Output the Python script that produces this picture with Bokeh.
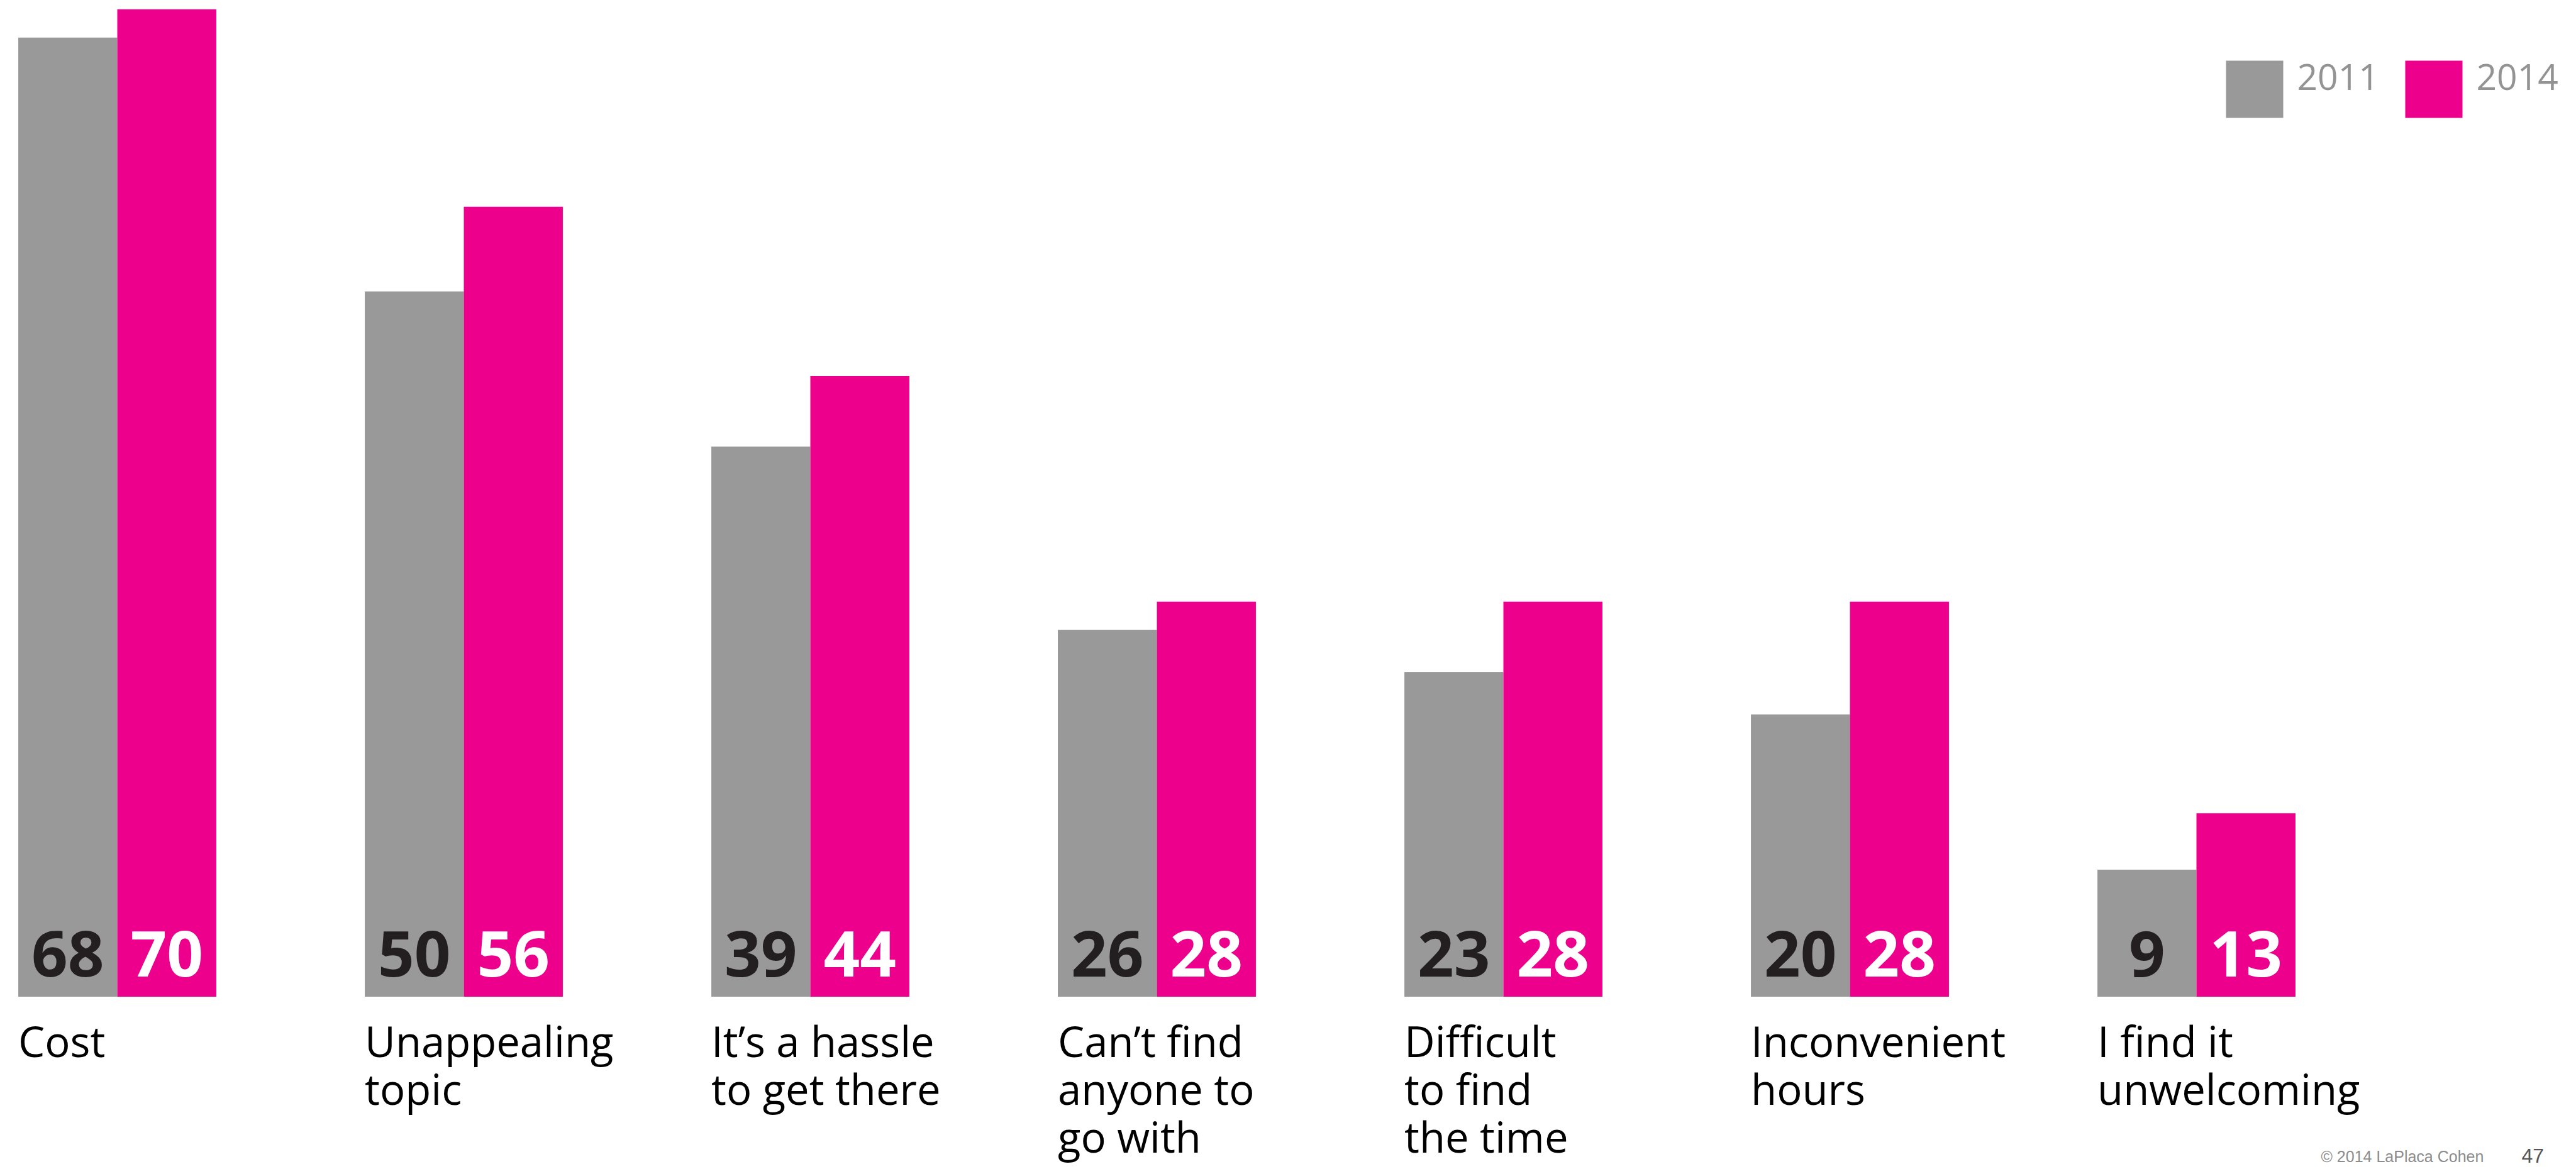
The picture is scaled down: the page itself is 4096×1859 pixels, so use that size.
from bokeh.plotting import figure
from bokeh.models import ColumnDataSource, Range1d
from bokeh.transform import dodge
from bokeh.core.properties import value
from bokeh.embed import file_html
from bokeh.resources import INLINE

# ---------------- data ----------------
categories = ["Cost", "Unappealing\ntopic", "It\u2019s a hassle\nto get there",
              "Can\u2019t find\nanyone to\ngo with", "Difficult\nto find\nthe time",
              "Inconvenient\nhours", "I find it\nunwelcoming"]
values_2011 = [68, 50, 39, 26, 23, 20, 9]
values_2014 = [70, 56, 44, 28, 28, 28, 13]
series_names = ["2011", "2014"]
footer_text = "\u00a9 2014 LaPlaca Cohen"
page_number = "47"

# ---------------- layout constants (output pixels) ----------------
W, H = 4096, 1859
X0, SX = 186.0, 551.0      # pixel x of group 0 centre, pixels per group
Y0, SY = 1584.4, 22.43     # pixel y of baseline, pixels per unit
BW = 231.5 / 810.2         # bar width in group units
DESC_OS = 0.293            # Open Sans descent (em)
DESC_LS = 0.212            # Liberation Sans descent (em)

GRAY = "#999999"
PINK = "#EC008C"
FONT = "Open Sans"

def fx(px):
    return (px - X0) / SX

def fy(py):
    return (Y0 - py) / SY

p = figure(width=W, height=H, output_backend="svg", toolbar_location=None,
           x_range=Range1d(fx(0), fx(W)), y_range=Range1d(fy(H), fy(0)),
           x_axis_type=None, y_axis_type=None, min_border=0,
           background_fill_color="white", border_fill_color="white")
p.outline_line_color = None
p.grid.visible = False

idx = list(range(len(categories)))
src = ColumnDataSource(dict(x=idx, v11=values_2011, v14=values_2014,
                            t11=[str(v) for v in values_2011],
                            t14=[str(v) for v in values_2014]))

p.vbar(x=dodge("x", -BW / 2, range=p.x_range), width=BW, top="v11", bottom=0,
       source=src, fill_color=GRAY, line_color=None)
p.vbar(x=dodge("x", BW / 2, range=p.x_range), width=BW, top="v14", bottom=0,
       source=src, fill_color=PINK, line_color=None)

# value labels at the foot of each bar
VS = 101
common = dict(y=0, text_align="center", text_baseline="alphabetic",
              y_offset=-38.1 - DESC_OS * VS,
              text_font=value(FONT), text_font_style="bold", text_font_size=f"{VS}px",
              source=src)
p.text(x=dodge("x", -BW / 2, range=p.x_range), text="t11", text_color="#231f20", **common)
p.text(x=dodge("x", BW / 2, range=p.x_range), text="t14", text_color="#ffffff", **common)

# category labels, one row per line
CS = 67
lx, lt, lo = [], [], []
for i, c in enumerate(categories):
    for k, line in enumerate(c.split("\n")):
        lx.append(i - BW)
        lt.append(line)
        lo.append(90.0 + 76.0 * k - DESC_OS * CS)
p.text(x="x", y=0, text="t", y_offset="o",
       source=ColumnDataSource(dict(x=lx, t=lt, o=lo)),
       text_align="left", text_baseline="alphabetic", text_color="#000000",
       text_font=value(FONT), text_font_size=f"{CS}px")

# legend (swatch + label)
sw_left = [3539, 3824]
sw_size = 91
sw_top = 96
LS = 57
p.quad(left=[fx(x) for x in sw_left], right=[fx(x + sw_size) for x in sw_left],
       top=fy(sw_top), bottom=fy(sw_top + sw_size), fill_color=[GRAY, PINK], line_color=None)
p.text(x=[fx(x + sw_size + 22) for x in sw_left], y=fy(138.7), text=series_names,
       y_offset=-DESC_OS * LS,
       text_align="left", text_baseline="alphabetic", text_color="#939393",
       text_font=value(FONT), text_font_size=f"{LS}px")

# footer
p.text(x=[fx(3690)], y=fy(1844), text=[footer_text], text_align="left",
       y_offset=-DESC_LS * 25,
       text_baseline="alphabetic", text_color="#8c8c8c",
       text_font=value("Liberation Sans"), text_font_size="25px")
p.text(x=[fx(4009)], y=fy(1844), text=[page_number], text_align="left",
       y_offset=-DESC_LS * 32,
       text_baseline="alphabetic", text_color="#555555",
       text_font=value("Liberation Sans"), text_font_size="32px")

open("out.html", "w").write(file_html(p, INLINE))
